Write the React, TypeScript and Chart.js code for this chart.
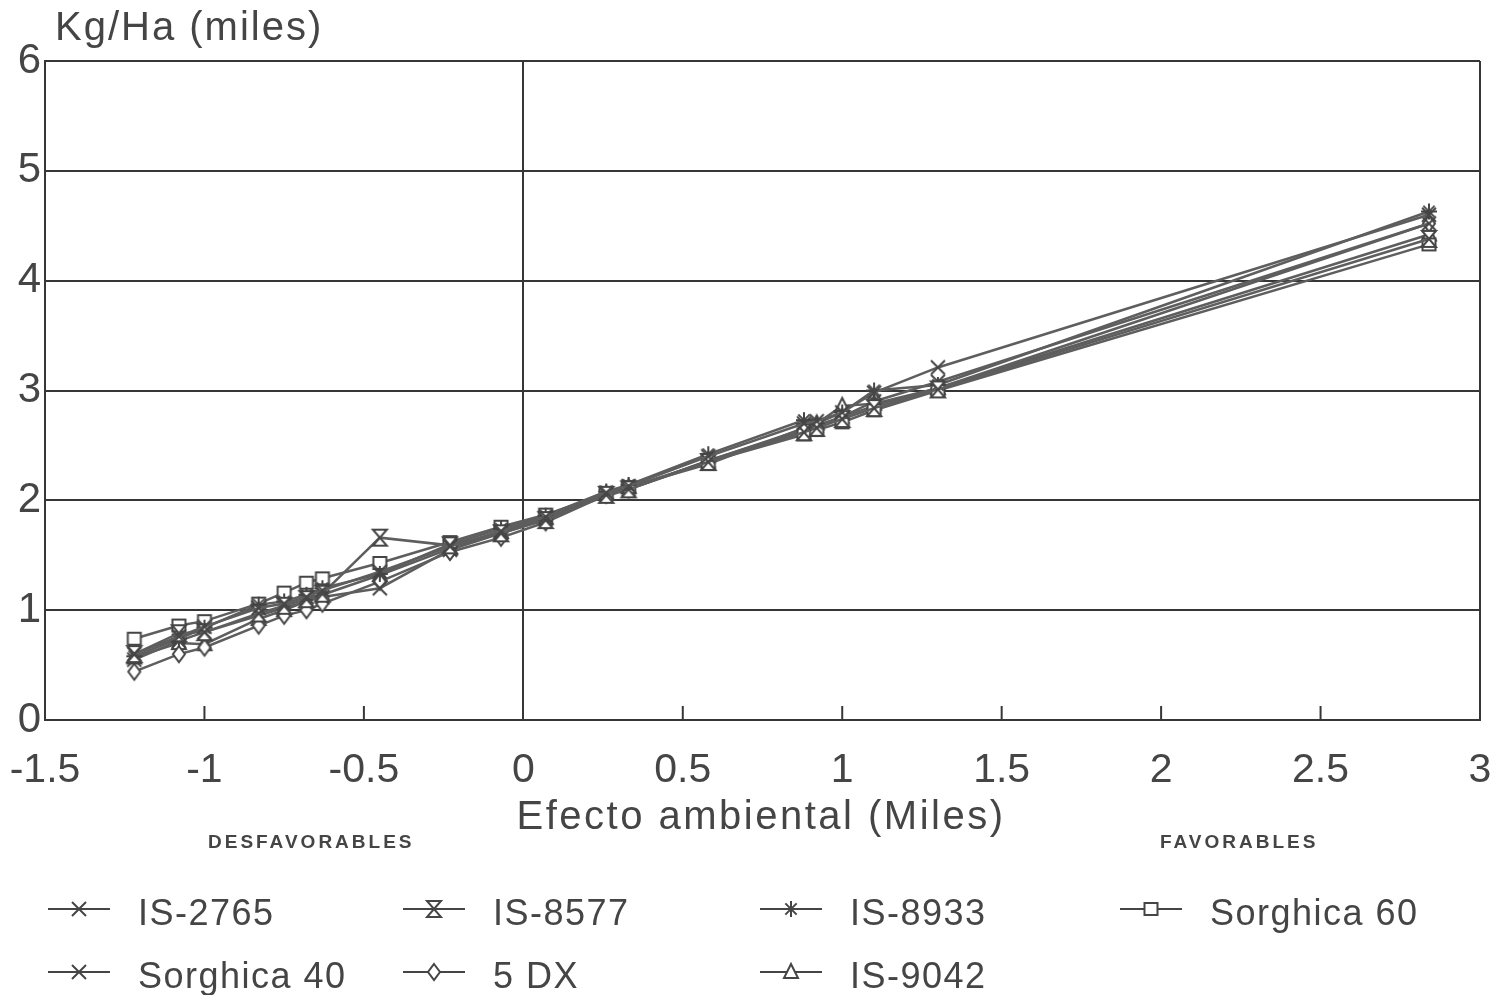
import React, { useEffect, useRef } from 'react';
import { Chart, registerables } from 'chart.js';

Chart.register(...registerables);

// Environmental index (thousands of kg/ha), shared by every variety
const envIndex = [-1.22, -1.08, -1.0, -0.83, -0.75, -0.68, -0.63, -0.45, -0.23, -0.07, 0.07, 0.26, 0.33, 0.58, 0.88, 0.92, 1.0, 1.1, 1.3, 2.84];

// Yield per variety (thousands of kg/ha)
const is2765 = [0.60, 0.76, 0.85, 1.02, 1.06, 1.12, 1.18, 1.35, 1.58, 1.72, 1.85, 2.07, 2.13, 2.40, 2.70, 2.72, 2.80, 2.98, 3.21, 4.60];
const is8577 = [0.60, 0.79, 0.80, 0.97, 1.04, 1.10, 1.15, 1.66, 1.59, 1.70, 1.82, 2.05, 2.10, 2.35, 2.62, 2.66, 2.74, 2.84, 3.01, 4.38];
const is8933 = [0.58, 0.74, 0.84, 1.05, 1.08, 1.14, 1.20, 1.33, 1.60, 1.74, 1.86, 2.08, 2.14, 2.42, 2.73, 2.70, 2.80, 3.00, 3.05, 4.63];
const sorghica60 = [0.74, 0.86, 0.90, 1.06, 1.16, 1.25, 1.29, 1.43, 1.62, 1.76, 1.87, 2.06, 2.12, 2.35, 2.60, 2.64, 2.71, 2.82, 3.00, 4.33];
const sorghica40 = [0.55, 0.72, 0.80, 0.95, 1.02, 1.08, 1.12, 1.20, 1.55, 1.70, 1.83, 2.04, 2.10, 2.36, 2.65, 2.68, 2.76, 2.90, 3.08, 4.52];
const dx5 = [0.44, 0.60, 0.66, 0.86, 0.95, 1.00, 1.06, 1.26, 1.53, 1.66, 1.80, 2.05, 2.10, 2.36, 2.64, 2.68, 2.76, 2.86, 3.02, 4.52];
const is9042 = [0.57, 0.70, 0.69, 0.92, 1.00, 1.08, 1.14, 1.32, 1.56, 1.71, 1.84, 2.06, 2.12, 2.33, 2.66, 2.70, 2.86, 2.88, 3.02, 4.42];

const seriesNames = ['IS-2765', 'IS-8577', 'IS-8933', 'Sorghica 60', 'Sorghica 40', '5 DX', 'IS-9042'];
const seriesValues = [is2765, is8577, is8933, sorghica60, sorghica40, dx5, is9042];
const seriesMarkers = ['x', 'hourglass', 'star', 'square', 'x', 'diamond', 'triangle'];

const xTicks = [-1.5, -1, -0.5, 0, 0.5, 1, 1.5, 2, 2.5, 3];
const yMin = 0;
const yMax = 6;

const yTitle = 'Kg/Ha (miles)';
const xTitle = 'Efecto ambiental (Miles)';
const leftNote = 'DESFAVORABLES';
const rightNote = 'FAVORABLES';

const INK = '#454545';
const GRID = '#363636';
const LINE = '#5e5e5e';
const FONT = '"Liberation Sans", Arial, Helvetica, sans-serif';

function makeMarker(kind: string): HTMLCanvasElement {
  const s = 24;
  const c = document.createElement('canvas');
  c.width = s;
  c.height = s;
  const g = c.getContext('2d')!;
  const m = s / 2;
  g.strokeStyle = INK;
  g.fillStyle = '#ffffff';
  g.lineWidth = 2;
  g.beginPath();
  switch (kind) {
    case 'x':
      g.moveTo(m - 7, m - 7); g.lineTo(m + 7, m + 7);
      g.moveTo(m + 7, m - 7); g.lineTo(m - 7, m + 7);
      g.stroke();
      break;
    case 'star':
      for (let i = 0; i < 4; i++) {
        const a = (i * Math.PI) / 4;
        g.moveTo(m - 8 * Math.cos(a), m - 8 * Math.sin(a));
        g.lineTo(m + 8 * Math.cos(a), m + 8 * Math.sin(a));
      }
      g.stroke();
      break;
    case 'square':
      g.rect(m - 6.5, m - 6, 13, 12);
      g.fill();
      g.stroke();
      break;
    case 'diamond':
      g.moveTo(m, m - 8); g.lineTo(m + 6, m); g.lineTo(m, m + 8); g.lineTo(m - 6, m);
      g.closePath();
      g.fill();
      g.stroke();
      break;
    case 'triangle':
      g.moveTo(m, m - 8); g.lineTo(m + 7, m + 6); g.lineTo(m - 7, m + 6);
      g.closePath();
      g.fill();
      g.stroke();
      break;
    case 'hourglass':
      g.moveTo(m - 7, m - 8); g.lineTo(m + 7, m - 8); g.lineTo(m - 7, m + 8); g.lineTo(m + 7, m + 8);
      g.closePath();
      g.fill();
      g.stroke();
      break;
  }
  return c;
}

function drawText(ctx: CanvasRenderingContext2D, text: string, x: number, y: number, font: string, spacing: number, align: CanvasTextAlign = 'left') {
  ctx.save();
  ctx.font = font;
  (ctx as any).letterSpacing = `${spacing}px`;
  ctx.fillStyle = INK;
  ctx.textAlign = align;
  ctx.textBaseline = 'alphabetic';
  ctx.fillText(text, x, y);
  ctx.restore();
}

export default function App() {
  const canvasRef = useRef<HTMLCanvasElement | null>(null);

  useEffect(() => {
    const canvas = canvasRef.current;
    if (!canvas) return;
    const markers = seriesMarkers.map(makeMarker);

    const decorations = {
      id: 'decorations',
      afterDraw(chart: any) {
        const ctx: CanvasRenderingContext2D = chart.ctx;
        const xs = chart.scales.x;
        const area = chart.chartArea;

        // inner tick marks along the bottom edge
        ctx.save();
        ctx.strokeStyle = GRID;
        ctx.lineWidth = 2;
        xTicks.forEach((v) => {
          if (v === xTicks[0] || v === xTicks[xTicks.length - 1] || v === 0) return;
          const px = xs.getPixelForValue(v);
          ctx.beginPath();
          ctx.moveTo(px, area.bottom);
          ctx.lineTo(px, area.bottom - 14);
          ctx.stroke();
        });
        ctx.restore();

        drawText(ctx, yTitle, 55, 40, `40px ${FONT}`, 2);
        drawText(ctx, xTitle, 761, 829, `40px ${FONT}`, 2.5, 'center');
        drawText(ctx, leftNote, 208, 848, `bold 19px ${FONT}`, 3);
        drawText(ctx, rightNote, 1160, 848, `bold 19px ${FONT}`, 3);

        // legend: two rows of line + marker + name
        const cols = [48, 403, 760, 1120];
        const rows = [909, 972];
        seriesNames.forEach((name, i) => {
          const col = cols[i % 4];
          const row = rows[Math.floor(i / 4)];
          ctx.save();
          ctx.strokeStyle = INK;
          ctx.lineWidth = 2;
          ctx.beginPath();
          ctx.moveTo(col, row);
          ctx.lineTo(col + 62, row);
          ctx.stroke();
          const mk = markers[i];
          ctx.drawImage(mk, col + 31 - mk.width / 2, row - mk.height / 2);
          ctx.restore();
          drawText(ctx, name, col + 90, row + 16, `36px ${FONT}`, 1.5);
        });
      },
    };

    const chart = new Chart(canvas, {
      type: 'line',
      data: {
        datasets: seriesNames.map((name, i) => ({
          label: name,
          data: envIndex.map((x, j) => ({ x, y: seriesValues[i][j] })),
          borderColor: LINE,
          borderWidth: 2.5,
          backgroundColor: '#ffffff',
          pointStyle: markers[i] as any,
          pointRadius: 8,
          tension: 0,
          fill: false,
        })),
      },
      options: {
        animation: false,
        responsive: false,
        events: [],
        layout: { padding: { top: 61, left: 3, right: 24, bottom: 195 } },
        plugins: {
          legend: { display: false },
          tooltip: { enabled: false },
          title: { display: false },
        },
        scales: {
          x: {
            type: 'linear',
            min: xTicks[0],
            max: xTicks[xTicks.length - 1],
            afterBuildTicks: (scale: any) => {
              scale.ticks = xTicks.map((v) => ({ value: v }));
            },
            afterFit: (scale: any) => {
              scale.height = 80;
            },
            ticks: {
              autoSkip: false,
              maxRotation: 0,
              padding: 0,
              color: INK,
              font: { family: FONT, size: 41 },
              callback: (v: any) => String(v),
            },
            grid: {
              drawTicks: true,
              tickLength: 26,
              tickColor: 'rgba(0,0,0,0)',
              lineWidth: 2,
              color: (c: any) => (c.tick && (c.tick.value === 0 || c.tick.value === xTicks[xTicks.length - 1]) ? GRID : 'rgba(0,0,0,0)'),
            },
            border: { display: true, color: GRID, width: 2 },
          },
          y: {
            min: yMin,
            max: yMax,
            afterFit: (scale: any) => {
              scale.width = 42;
            },
            ticks: {
              stepSize: 1,
              padding: 4,
              color: INK,
              font: { family: FONT, size: 42 },
            },
            grid: { drawTicks: false, lineWidth: 2, color: GRID },
            border: { display: true, color: GRID, width: 2 },
          },
        },
      },
      plugins: [decorations],
    } as any);

    return () => chart.destroy();
  }, []);

  return (
    <div style={{ position: 'fixed', left: 0, top: 0, width: 1504, height: 995, background: '#ffffff' }}>
      <canvas ref={canvasRef} width={1504} height={995} style={{ width: 1504, height: 995, display: 'block' }} />
    </div>
  );
}
